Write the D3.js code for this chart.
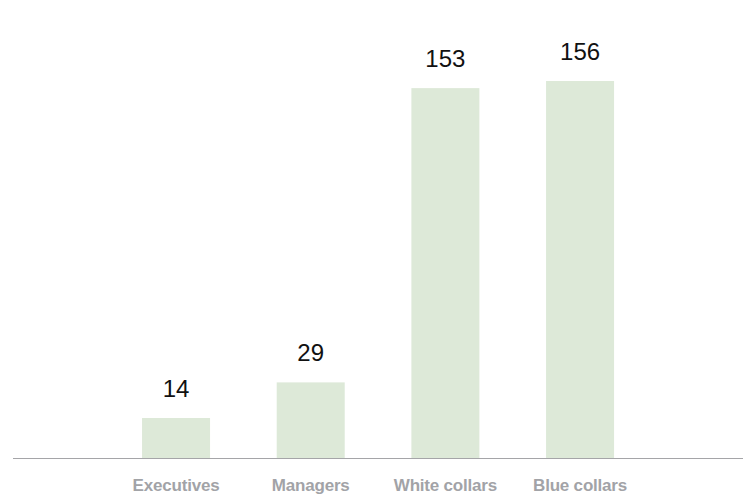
<!DOCTYPE html>
<html>
<head>
<meta charset="utf-8">
<script src="https://cdn.jsdelivr.net/npm/d3@7"></script>
<style>
  body { margin: 0; background: #fff; }
  svg { display: block; font-family: "Liberation Sans", Arial, sans-serif; }
  .value-label { font-size: 24px; fill: #111; }
  .cat-label { font-size: 17px; font-weight: bold; fill: #a2a3a7; letter-spacing: -0.2px; }
</style>
</head>
<body>
<svg id="chart"></svg>
<script>
// chart data
const categories = ["Executives", "Managers", "White collars", "Blue collars"];
const values = [14, 29, 153, 156];

const width = 749, height = 495;
const baseY = 458;

const svg = d3.select("#chart")
    .attr("width", width)
    .attr("height", height);

// band scale for the bars
const xScale = d3.scaleBand()
    .domain(categories)
    .range([74.7, 681.4])
    .paddingInner(0.495)
    .paddingOuter(0.5);

// zero sits a little under the axis line, so small bars look taller
const yScale = d3.scaleLinear()
    .domain([-2.86, 156])
    .range([baseY, 81]);

const data = categories.map((c, i) => ({cat: c, val: values[i]}));

svg.selectAll(".bar")
    .data(data)
    .enter()
    .append("rect")
    .attr("class", "bar")
    .attr("x", d => xScale(d.cat))
    .attr("y", d => yScale(d.val))
    .attr("width", xScale.bandwidth())
    .attr("height", d => yScale(-2.86) - yScale(d.val))
    .attr("fill", "#dde9d8");

// baseline
svg.append("line")
    .attr("x1", 13)
    .attr("x2", 743)
    .attr("y1", baseY + 0.5)
    .attr("y2", baseY + 0.5)
    .attr("stroke", "#a5a5a8")
    .attr("stroke-width", 1.2);

svg.selectAll(".value-label")
    .data(data)
    .enter()
    .append("text")
    .attr("class", "value-label")
    .attr("x", d => xScale(d.cat) + xScale.bandwidth() / 2)
    .attr("y", d => yScale(d.val) - 21)
    .attr("text-anchor", "middle")
    .text(d => d.val);

svg.selectAll(".cat-label")
    .data(data)
    .enter()
    .append("text")
    .attr("class", "cat-label")
    .attr("x", d => xScale(d.cat) + xScale.bandwidth() / 2)
    .attr("y", 491)
    .attr("text-anchor", "middle")
    .text(d => d.cat);
</script>
</body>
</html>
